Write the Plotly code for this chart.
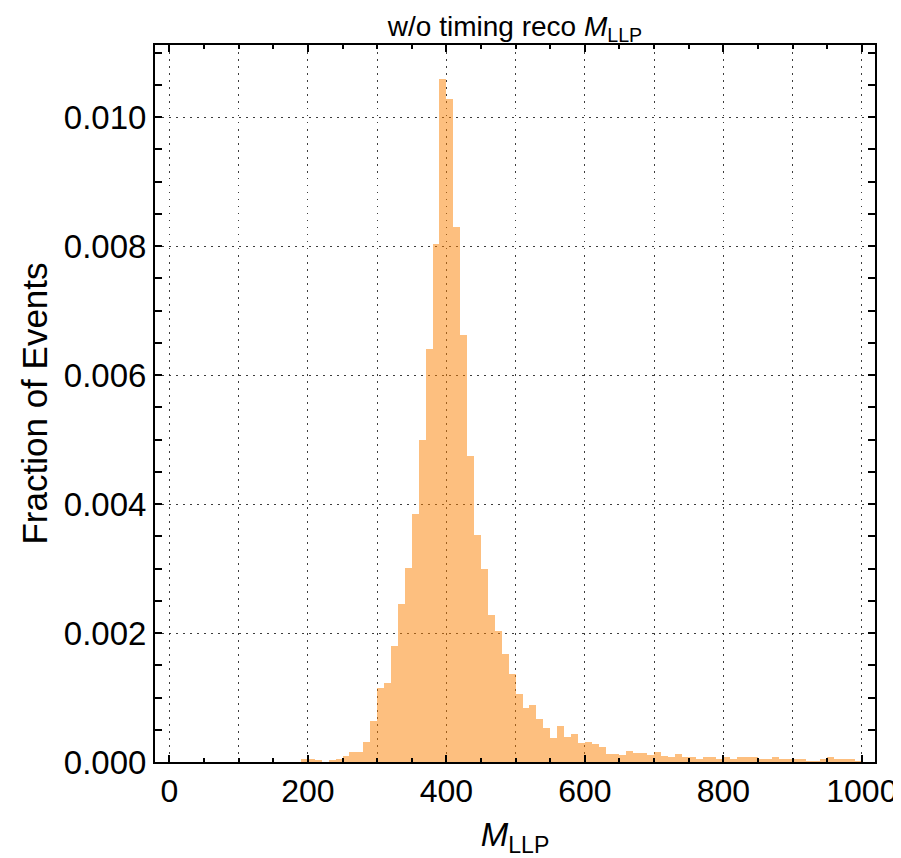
import plotly.graph_objects as go

# ---- data (bin left edges, bin width 10) ----
bin_left = list(range(190, 1000, 10))
fraction = [
    0.00005, 0.00004, 0.00003, 0.00000, 0.00003, 0.00004, 0.00009, 0.00016, 0.00016, 0.00031,
    0.00064, 0.00114, 0.00123, 0.00180, 0.00245, 0.00301, 0.00385, 0.00500, 0.00641, 0.00804,
    0.01059, 0.01028, 0.00830, 0.00663, 0.00475, 0.00352, 0.00300, 0.00228, 0.00203, 0.00167,
    0.00136, 0.00106, 0.00083, 0.00089, 0.00066, 0.00052, 0.00038, 0.00056, 0.00039, 0.00044,
    0.00030, 0.00031, 0.00028, 0.00024, 0.00013, 0.00013, 0.00011, 0.00017, 0.00014, 0.00014,
    0.00011, 0.00016, 0.00010, 0.00008, 0.00013, 0.00008, 0.00008, 0.00005, 0.00008, 0.00007,
    0.00004, 0.00008, 0.00004, 0.00007, 0.00007, 0.00007, 0.00005, 0.00004, 0.00008, 0.00005,
    0.00004, 0.00004, 0.00004, 0.00001, 0.00002, 0.00005, 0.00007, 0.00005, 0.00005, 0.00004,
    0.00002,
]
bin_width = 10
x_ticks = [0, 200, 400, 600, 800, 1000]
y_ticks = [0.000, 0.002, 0.004, 0.006, 0.008, 0.010]
y_tick_text = ["0.000", "0.002", "0.004", "0.006", "0.008", "0.010"]

FONT = "Liberation Sans, Arial, sans-serif"
x_range = [-20.8, 1019]
y_range = [0, 0.01112]

fig = go.Figure()
fig.add_trace(go.Bar(
    x=bin_left, y=fraction, width=bin_width, offset=0,
    marker=dict(color="rgba(252,128,0,0.5)", line=dict(width=0)),
    showlegend=False, hoverinfo="x+y",
))
# invisible trace to carry the 100-unit grid axis
fig.add_trace(go.Scatter(x=[None], y=[None], xaxis="x2", yaxis="y", showlegend=False, hoverinfo="skip"))

grid_style = dict(gridcolor="rgba(40,40,40,0.9)", gridwidth=1, griddash="1.5px,5.5px")

fig.update_layout(
    width=893, height=850,
    margin=dict(l=147, r=26, t=37, b=96, autoexpand=False),
    paper_bgcolor="white", plot_bgcolor="white",
    bargap=0,
    font=dict(family=FONT, color="black"),
    title=dict(
        text="w/o timing reco <i>M</i><sub>LLP</sub>",
        x=0.5, xref="paper", xanchor="center",
        y=0.979, yref="container", yanchor="middle",
        font=dict(size=28, family=FONT, color="black"),
    ),
    xaxis=dict(
        range=x_range, tickvals=x_ticks, automargin=False,
        showgrid=False, zeroline=False,
        showline=True, linecolor="black", linewidth=2, mirror="allticks",
        ticks="inside", ticklen=7, tickwidth=2, tickcolor="black",
        minor=dict(dtick=50, ticks="inside", ticklen=4, tickwidth=1.5, tickcolor="black", showgrid=False),
        tickfont=dict(size=32, family=FONT),
        title=dict(text="<i>M</i><sub>LLP</sub>", font=dict(size=33, family=FONT), standoff=18),
        layer="above traces",
    ),
    xaxis2=dict(
        range=x_range, overlaying="x", dtick=100, tick0=0, automargin=False,
        showgrid=True, **grid_style,
        showticklabels=False, ticks="", showline=False, zeroline=False,
    ),
    yaxis=dict(
        range=y_range, tickvals=y_ticks, ticktext=y_tick_text, automargin=False,
        showgrid=True, **grid_style, zeroline=False,
        showline=True, linecolor="black", linewidth=2, mirror="allticks",
        ticks="inside", ticklen=7, tickwidth=2, tickcolor="black",
        minor=dict(dtick=0.0005, tick0=0, ticks="inside", ticklen=4, tickwidth=1.5, tickcolor="black", showgrid=False),
        tickfont=dict(size=33, family=FONT),
        title=dict(text="Fraction of Events", font=dict(size=35, family=FONT), standoff=6),
        layer="above traces",
    ),
)

fig.write_html("out.html")
